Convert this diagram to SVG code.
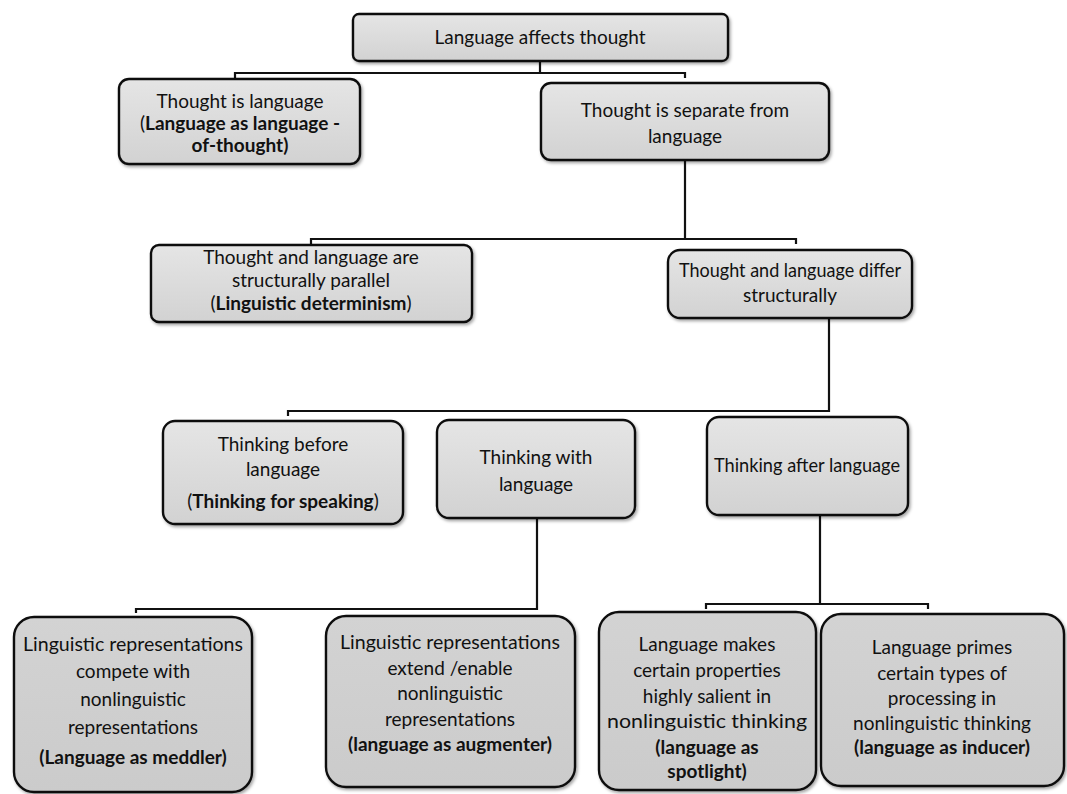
<svg xmlns="http://www.w3.org/2000/svg" width="1067" height="794" viewBox="0 0 1067 794">
<defs>
<linearGradient id="g" x1="0" y1="0" x2="0" y2="1">
<stop offset="0" stop-color="#e5e5e5"/>
<stop offset="1" stop-color="#d2d2d2"/>
</linearGradient>
<linearGradient id="g2" x1="0" y1="0" x2="0" y2="1">
<stop offset="0" stop-color="#d3d3d3"/>
<stop offset="1" stop-color="#cbcbcb"/>
</linearGradient>
<filter id="sh" x="-10%" y="-10%" width="120%" height="130%">
<feDropShadow dx="1.5" dy="2" stdDeviation="1.5" flood-color="#000" flood-opacity="0.35"/>
</filter>
<style>
.box{fill:url(#g);stroke:#111;stroke-width:2.4;filter:url(#sh)}
.lo{fill:url(#g2)}
.t{font-family:Lato,"Liberation Sans",sans-serif;font-size:19px;fill:#111;text-anchor:middle}
.b{font-weight:bold}
.c{fill:none;stroke:#111;stroke-width:2.2}
</style>
</defs>
<rect width="1067" height="794" fill="#fff"/>
<g id="connectors">
<path class="c" d="M540 61V73M235 78V73H685V78"/>
<path class="c" d="M685 160V239M311 244V239H796V244"/>
<path class="c" d="M829 318V411H288V416"/>
<path class="c" d="M537 518V609H136V613"/>
<path class="c" d="M820 515V604M706 609V604H928V609"/>
</g>
<g id="n1"><rect class="box" x="353" y="14" width="375" height="47" rx="6"/>
<text class="t" x="540" y="44">Language affects thought</text></g>
<g id="n2"><rect class="box" x="119" y="79" width="241" height="85" rx="10"/>
<text class="t" x="240" y="108">Thought is language</text>
<text class="t" x="240" y="130">(<tspan class="b">Language as language -</tspan></text>
<text class="t b" x="240" y="152">of-thought)</text></g>
<g id="n3"><rect class="box" x="541" y="83" width="288" height="77" rx="10"/>
<text class="t" x="685" y="117">Thought is separate from</text>
<text class="t" x="685" y="143">language</text></g>
<g id="n4"><rect class="box" x="151" y="245" width="321" height="77" rx="8"/>
<text class="t" x="311" y="264">Thought and language are</text>
<text class="t" x="311" y="287">structurally parallel</text>
<text class="t" x="311" y="310">(<tspan class="b">Linguistic determinism</tspan>)</text></g>
<g id="n5"><rect class="box" x="668" y="250" width="244" height="68" rx="12"/>
<text class="t" x="790" y="277" textLength="222" lengthAdjust="spacingAndGlyphs">Thought and language differ</text>
<text class="t" x="790" y="302">structurally</text></g>
<g id="n6"><rect class="box" x="163" y="421" width="240" height="103" rx="12"/>
<text class="t" x="283" y="451">Thinking before</text>
<text class="t" x="283" y="476">language</text>
<text class="t" x="283" y="508">(<tspan class="b">Thinking for speaking</tspan>)</text></g>
<g id="n7"><rect class="box" x="437" y="420" width="198" height="98" rx="12"/>
<text class="t" x="536" y="464">Thinking with</text>
<text class="t" x="536" y="491">language</text></g>
<g id="n8"><rect class="box" x="707" y="417" width="201" height="98" rx="12"/>
<text class="t" x="807" y="472" textLength="186" lengthAdjust="spacingAndGlyphs">Thinking after language</text></g>
<g id="n9"><rect class="box lo" x="14" y="617" width="238" height="175" rx="20"/>
<text class="t" x="133" y="651" textLength="220" lengthAdjust="spacingAndGlyphs">Linguistic representations</text>
<text class="t" x="133" y="678">compete with</text>
<text class="t" x="133" y="706">nonlinguistic</text>
<text class="t" x="133" y="734">representations</text>
<text class="t b" x="133" y="764">(Language as meddler)</text></g>
<g id="n10"><rect class="box lo" x="326" y="616" width="249" height="171" rx="20"/>
<text class="t" x="450" y="649" textLength="220" lengthAdjust="spacingAndGlyphs">Linguistic representations</text>
<text class="t" x="450" y="675">extend /enable</text>
<text class="t" x="450" y="700">nonlinguistic</text>
<text class="t" x="450" y="726">representations</text>
<text class="t b" x="450" y="751">(language as augmenter)</text></g>
<g id="n11"><rect class="box lo" x="599" y="612" width="217" height="178" rx="20"/>
<text class="t" x="707" y="651">Language makes</text>
<text class="t" x="707" y="677">certain properties</text>
<text class="t" x="707" y="703">highly salient in</text>
<text class="t" x="707" y="728" textLength="200" lengthAdjust="spacingAndGlyphs">nonlinguistic thinking</text>
<text class="t b" x="707" y="754">(language as</text>
<text class="t b" x="707" y="778">spotlight)</text></g>
<g id="n12"><rect class="box lo" x="821" y="614" width="243" height="172" rx="20"/>
<text class="t" x="942" y="654">Language primes</text>
<text class="t" x="942" y="680">certain types of</text>
<text class="t" x="942" y="705">processing in</text>
<text class="t" x="942" y="730">nonlinguistic thinking</text>
<text class="t b" x="942" y="754">(language as inducer)</text></g>
</svg>
